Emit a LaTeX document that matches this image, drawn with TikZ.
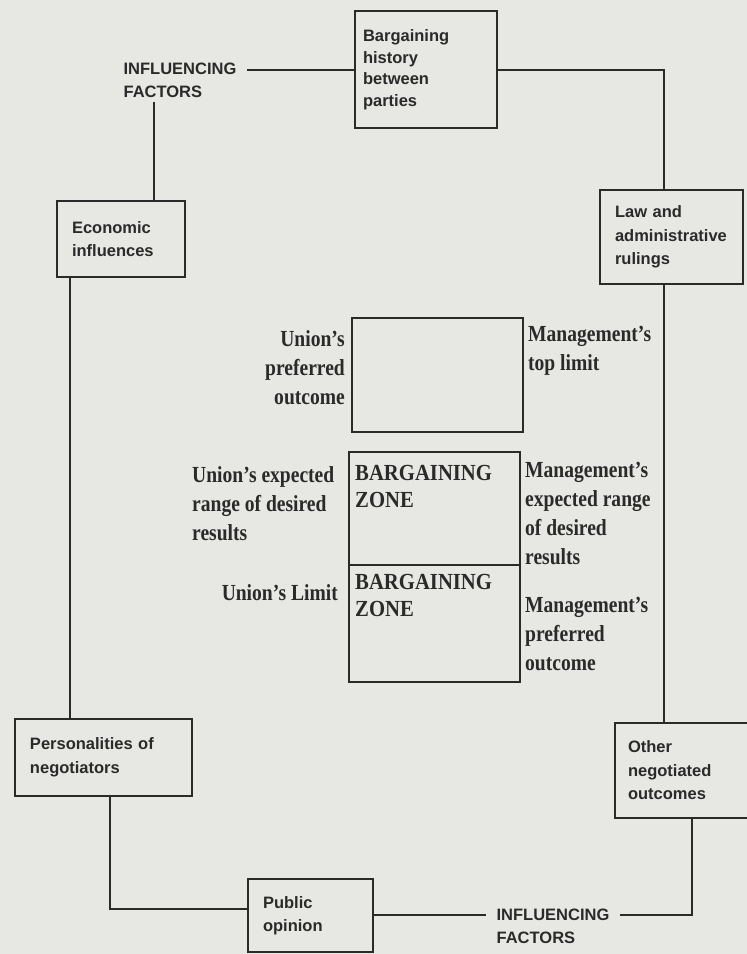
\documentclass[tikz,border=0pt]{standalone}
\usepackage{fontspec}
\setmainfont[FakeStretch=0.85]{Liberation Serif}
\newfontfamily\boxfont{Liberation Sans}
\newfontfamily\zonefont[FakeStretch=0.9]{Liberation Serif}
\usetikzlibrary{calc}
\definecolor{paper}{HTML}{E7E7E3}
\definecolor{ink}{HTML}{2A2A2A}

\begin{document}
\begin{tikzpicture}[x=1pt,y=-1pt,
  every node/.style={text=ink},
  factorbox/.style={draw=ink, line width=2.3pt, fill=paper, inner xsep=15pt,
    inner ysep=0pt, align=left, font=\boxfont\bfseries\fontsize{16.5}{23.5}\selectfont},
  caption/.style={font=\boxfont\bfseries\fontsize{16.5}{23}\selectfont, align=left,
    inner xsep=10pt, inner ysep=4pt},
  rangebox/.style={draw=ink, line width=2.3pt},
  sidelabel/.style={font=\bfseries\fontsize{23}{29}\selectfont, inner sep=0pt},
  zonelabel/.style={font=\zonefont\bfseries\fontsize{23}{27}\selectfont, inner sep=0pt, align=left, anchor=west},
  link/.style={draw=ink, line width=2pt},
]
% paper and page frame
\fill[paper] (0,0) rectangle (747,954);
\useasboundingbox (0,0) rectangle (747,954);

% influencing factor boxes
\node[factorbox, minimum width=142pt, minimum height=117pt, text width=126pt,
  inner xsep=8pt, font=\boxfont\bfseries\fontsize{16.5}{21.5}\selectfont]
  (hist) at (426,69.5) {Bargaining\\history\\between\\parties};
\node[factorbox, minimum width=143pt, minimum height=94pt, text width=113pt]
  (law) at (671.5,237) {Law and\\administrative\\rulings};
\node[factorbox, minimum width=128pt, minimum height=76pt, text width=98pt]
  (econ) at (121,239) {Economic\\influences};
\node[factorbox, minimum width=177pt, minimum height=77pt, text width=147pt]
  (pers) at (103.5,757.5) {Personalities of\\negotiators};
\node[factorbox, minimum width=145pt, minimum height=95pt, text width=119pt,
  inner xsep=13pt] (other) at (687.5,770.5) {Other\\negotiated\\outcomes};
\node[factorbox, minimum width=125pt, minimum height=73pt, text width=95pt]
  (public) at (310.5,915.5) {Public\\opinion};

% the two captions
\node[caption] (topinf) at (180,80) {INFLUENCING\\FACTORS};
\node[caption] (botinf) at (553,926) {INFLUENCING\\FACTORS};

% rails used by the connectors
\coordinate (topdrop) at (154,0);
\coordinate (rightrail) at (664,0);
\coordinate (leftrail) at (70,0);
\coordinate (persdrop) at (110,0);
\coordinate (othdrop) at (692,0);
\coordinate (botinfL) at ([yshift=11pt]botinf.west);
\coordinate (botinfR) at ([yshift=11pt]botinf.east);
\coordinate (pubin) at ([yshift=6.5pt]public.west);

% connectors
\draw[link] (topinf.east |- hist.west) -- (hist.west);
\draw[link] (topinf.south -| topdrop) -- (econ.north -| topdrop);
\draw[link] (hist.east) -| (law.north -| rightrail);
\draw[link] (law.south -| rightrail) -- (other.north -| rightrail);
\draw[link] (econ.south -| leftrail) -- (pers.north -| leftrail);
\draw[link] (pers.south -| persdrop) |- (pubin);
\draw[link] (public.east |- botinfL) -- (botinfL);
\draw[link] (other.south -| othdrop) |- (botinfR);

% bargaining range boxes
\node[rangebox, minimum width=171pt, minimum height=114pt] (pref) at (437.5,375) {};
\node[rangebox, minimum width=171pt, minimum height=113pt] (zone1) at (434.5,508.5) {};
\node[rangebox, minimum width=171pt, minimum height=117pt] (zone2) at (434.5,623.5) {};
\node[zonelabel] (zt1) at (355,486) {BARGAINING\\ZONE};
\node[zonelabel] (zt2) at (355,595) {BARGAINING\\ZONE};

% union side labels
\node[sidelabel, align=right, anchor=east] (uprefl) at (345,367.5) {Union’s\\preferred\\outcome};
\node[sidelabel, align=left, anchor=west] (uexp) at (192,504) {Union’s expected\\range of desired\\results};
\node[sidelabel, align=right, anchor=east] (ulim) at (338,593) {Union’s Limit};

% management side labels
\node[sidelabel, align=left, anchor=west] (mtop) at (528,351) {Management’s\\top limit};
\node[sidelabel, align=left, anchor=west] (mexp) at (525,513) {Management’s\\expected range\\of desired\\results};
\node[sidelabel, align=left, anchor=west] (mpref) at (525,634) {Management’s\\preferred\\outcome};
\end{tikzpicture}
\end{document}
